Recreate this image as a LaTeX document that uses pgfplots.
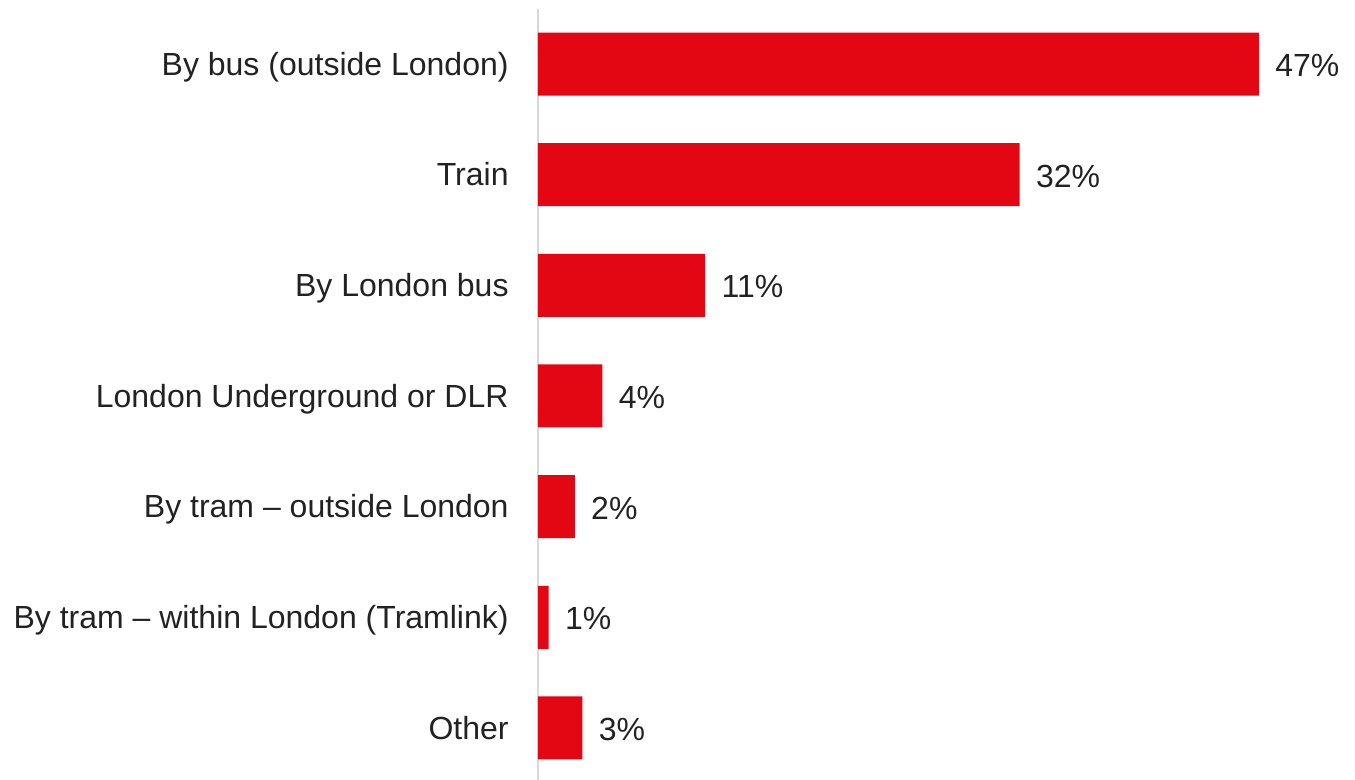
\documentclass[border=0pt]{standalone}
\usepackage{pgfplots}
\pgfplotsset{compat=1.18}
\usepackage{pgfplotstable}
\usepackage{fontspec}
\setmainfont{Liberation Sans}
\definecolor{barred}{HTML}{E30613}
\definecolor{axgray}{HTML}{D9D9D9}
\definecolor{txt}{HTML}{222222}
\pgfplotstableread[col sep=comma]{
y,x,label
0,47.0,47\%
1,31.4,32\%
2,10.9,11\%
3,4.2,4\%
4,2.4,2\%
5,0.7,1\%
6,2.9,3\%
}\data
\begin{document}
\begin{tikzpicture}
\begin{axis}[
  scale only axis,
  width=383.5pt, height=387.3pt,
  xmin=0, xmax=50,
  ymin=-0.5, ymax=6.5,
  y dir=reverse,
  xbar, bar width=31.5pt,
  axis x line=none,
  axis y line*=left,
  y axis line style={draw=axgray, line width=1pt},
  ytick={0,...,6},
  yticklabels={By bus (outside London),Train,By London bus,London Underground or DLR,By tram -- outside London,By tram -- within London (Tramlink),Other},
  ytick style={draw=none},
  major tick length=0pt,
  yticklabel style={font=\fontsize{16}{19}\selectfont, text=txt, anchor=base east, inner sep=0pt, xshift=-14.5pt, yshift=-5.6pt},
  point meta=explicit symbolic,
  nodes near coords,
  nodes near coords style={font=\fontsize{16}{19}\selectfont, text=txt, anchor=base west, inner sep=0pt, xshift=8pt, yshift=-6.3pt},
  clip=false,
]
\addplot[fill=barred, draw=none] table[x=x, y=y, meta=label] {\data};
\end{axis}
\pgfresetboundingbox
\useasboundingbox (-269pt,1.65pt) rectangle (408.5pt,391.65pt);
\end{tikzpicture}
\end{document}
